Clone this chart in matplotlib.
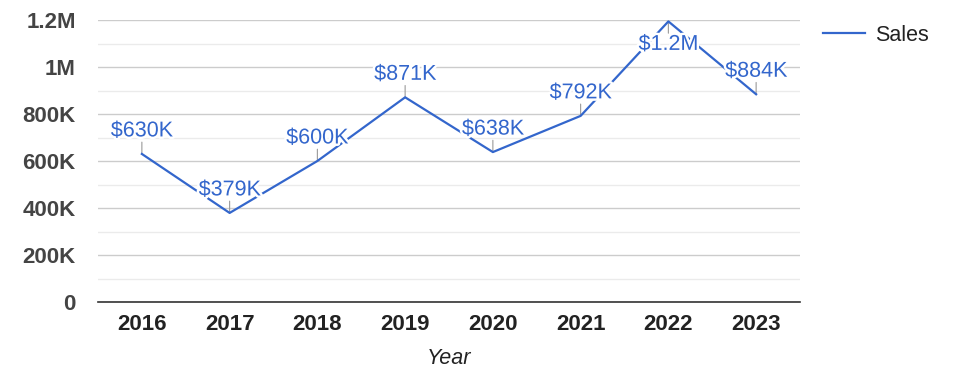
import matplotlib.pyplot as plt
import matplotlib.patheffects as pe
from matplotlib.ticker import MultipleLocator, FuncFormatter

plt.rcParams['font.family'] = ['Liberation Sans', 'DejaVu Sans']

# data
years = ['2016', '2017', '2018', '2019', '2020', '2021', '2022', '2023']
sales = [630000, 379000, 600000, 871000, 638000, 792000, 1194000, 884000]

blue = '#3366CC'


def money(v):
    if v >= 1e6:
        return f'${v / 1e6:.1f}M'
    return f'${v / 1e3:.0f}K'


def short(v, pos):
    if v == 0:
        return '0'
    if v >= 1e6:
        return f'{v / 1e6:g}M'
    return f'{v / 1e3:g}K'


fig = plt.figure(figsize=(9.75, 3.78), dpi=100)
ax = fig.add_axes([98 / 975, 76 / 378, 702 / 975, 282 / 378])

x = list(range(len(years)))
ax.plot(x, sales, color=blue, lw=1.6, label='Sales', zorder=3)

ymax = 1200000

# annotation stems and labels (flip below the point when there is no room above)
for xi, v in zip(x, sales):
    d = -1 if v > ymax * 0.95 else 1
    ax.annotate('', xy=(xi, v), xytext=(0, 8.5 * d), textcoords='offset points',
                arrowprops=dict(arrowstyle='-', color='#999999', lw=0.8,
                                shrinkA=0, shrinkB=0), zorder=2)
    t = ax.annotate(money(v), xy=(xi, v), xytext=(0, 9 * d),
                    textcoords='offset points', ha='center',
                    va='bottom' if d > 0 else 'top',
                    fontsize=15.5, color=blue, zorder=4)
    t.set_path_effects([pe.withStroke(linewidth=3.5, foreground='white')])

ax.set_xlim(-0.5, len(years) - 0.5)
ax.set_ylim(0, ymax)
ax.set_xticks(x)
ax.set_xticklabels(years)
ax.yaxis.set_major_locator(MultipleLocator(200000))
ax.yaxis.set_minor_locator(MultipleLocator(100000))
ax.yaxis.set_major_formatter(FuncFormatter(short))

ax.grid(axis='y', which='major', color='#cccccc', lw=1)
ax.grid(axis='y', which='minor', color='#ebebeb', lw=1)
ax.set_axisbelow(True)

for s in ['top', 'right', 'left']:
    ax.spines[s].set_visible(False)
ax.spines['bottom'].set_color('#333333')
ax.spines['bottom'].set_linewidth(1.2)

ax.tick_params(axis='both', which='both', length=0)
ax.tick_params(axis='y', pad=16, labelsize=16, labelcolor='#444444')
ax.tick_params(axis='x', pad=9, labelsize=16, labelcolor='#222222')
for lab in ax.get_xticklabels() + ax.get_yticklabels():
    lab.set_fontweight('bold')

ax.set_xlabel('Year', fontsize=15.5, style='italic', color='#222222', labelpad=9)

fig.legend(loc='upper left', bbox_to_anchor=(812 / 975, 1 - 14 / 378),
           frameon=False, fontsize=15.5, handlelength=1.95, handletextpad=0.5,
           borderpad=0, labelcolor='#222222')

plt.savefig('out.png', dpi=100)
